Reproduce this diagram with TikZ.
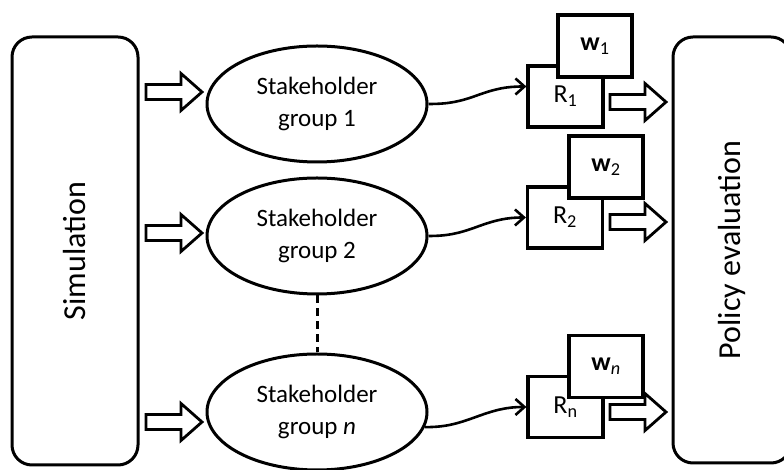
\documentclass[tikz,border=0pt]{standalone}
\usepackage{fontspec}
\setmainfont{Carlito}
\usepackage{tikz}
\usetikzlibrary{
  arrows.meta,
  positioning,
  calc,
  shapes.geometric
}

\begin{document}
\begin{tikzpicture}[x=1pt, y=1pt,
  box/.style={draw, line width=3pt, rounded corners=20pt, inner sep=0pt,
              rotate=90, font=\fontsize{32}{38}\selectfont},
  group/.style={draw, ellipse, line width=3pt, minimum width=220pt,
                minimum height=116pt, inner sep=0pt, align=center,
                font=\fontsize{25}{32}\selectfont},
  rbox/.style={draw, line width=3.2pt, fill=white, minimum width=75pt,
               minimum height=61pt, font=\fontsize{26}{30}\selectfont},
  wbox/.style={rbox, minimum width=74pt, minimum height=62pt},
  conn/.style={line width=2.6pt, -{Straight Barb[length=9pt,width=16pt]}},
  dots/.style={line width=3pt, dash pattern=on 8pt off 5pt},
  blockarr/.pic={\draw[line width=2.8pt, line join=miter]
    (0,-7.5) -- (35,-7.5) -- (35,-18.5) -- (56,0) -- (35,18.5) -- (35,7.5)
    -- (0,7.5) -- cycle;},
]
  \clip (0,0) rectangle (784,470);

  % Simulation and policy evaluation
  \node[box, minimum width=428pt, minimum height=126pt] (sim) at (75,219) {Simulation};
  \node[box, minimum width=426pt, minimum height=118pt] (pol) at (732,220) {Policy evaluation};

  % Stakeholder groups
  \node[group] (g1) at (317,366) {Stakeholder\\group 1};
  \node[group] (g2) at (317,234) {Stakeholder\\group 2};
  \node[group] (gn) at (317,58)  {Stakeholder\\group \textit{n}};
  \draw[dots] (g2.south) -- (gn.north);

  \pic at (146,378) {blockarr};
  \pic at (146,237) {blockarr};
  \pic at (146,48)  {blockarr};

  % Results and weights
  \node[rbox] (r1) at (565.5,373.5) {R\textsubscript{1}};
  \node[wbox] (w1) at (595,424)     {\textbf{w}\textsubscript{1}};
  \node[rbox] (r2) at (565,252.5)   {R\textsubscript{2}};
  \node[wbox] (w2) at (606,303)     {\textbf{w}\textsubscript{2}};
  \node[rbox] (rn) at (565.5,63)    {R\textsubscript{n}};
  \node[wbox] (wn) at (606,103.5)   {\textbf{w}\textsubscript{\itshape n}};

  \coordinate (t1) at ($(r1.west)+(0,10)$);
  \draw[conn] (g1.east) to[out=0,in=200] ($(g1.east)!.5!(t1)$) to[out=20,in=180] (t1);
  \draw[conn] (g2.east) to[out=0,in=200] ($(g2.east)!.5!(r2.west)$) to[out=20,in=180] (r2.west);
  \draw[conn] (gn.-8) to[out=0,in=200] ($(gn.-8)!.5!(rn.west)$) to[out=20,in=180] (rn.west);

  \pic at (610,368) {blockarr};
  \pic at (610,248) {blockarr};
  \pic at (610,58)  {blockarr};
\end{tikzpicture}
\end{document}
